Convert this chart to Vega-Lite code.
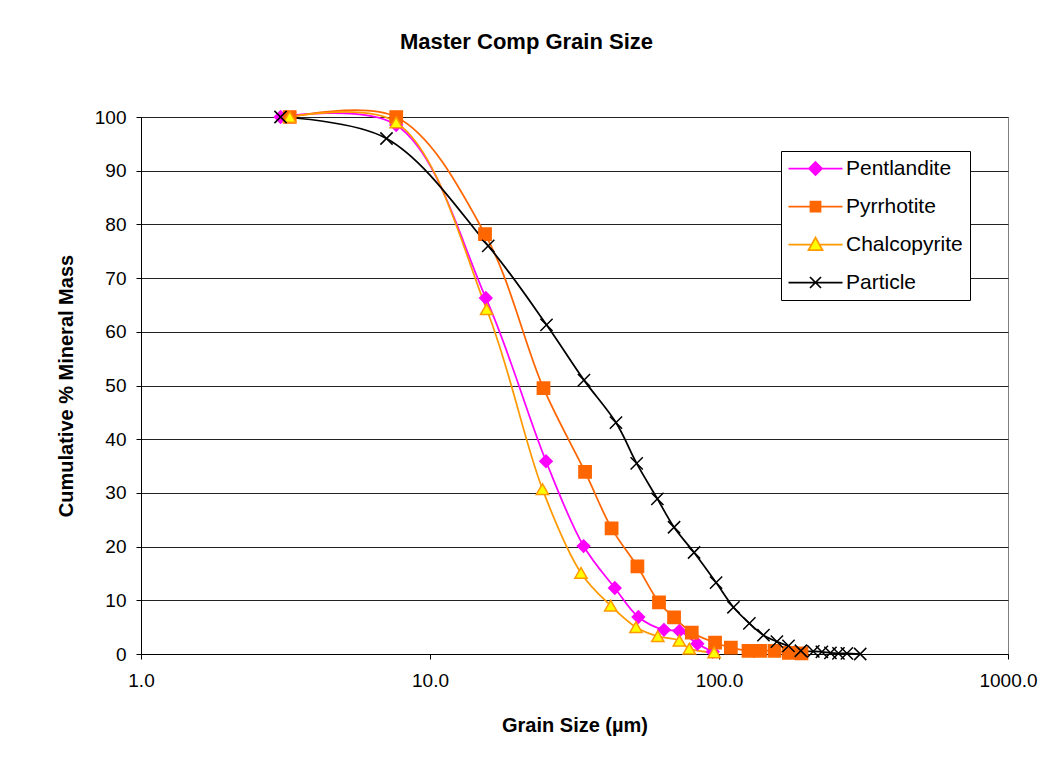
{
  "$schema": "https://vega.github.io/schema/vega-lite/v6.json",
  "width": 867,
  "height": 537,
  "autosize": {"type": "none"},
  "padding": {"left": 141, "top": 117, "right": 36, "bottom": 127},
  "background": "white",
  "title": {"text": "Master Comp Grain Size", "fontSize": 22, "font": "Liberation Sans", "fontWeight": "bold", "anchor": "middle", "dx": -48, "offset": 53, "color": "black"},
  "config": {
    "view": {"stroke": "#808080", "strokeWidth": 1},
    "axis": {"labelFont": "Liberation Sans", "titleFont": "Liberation Sans", "labelFontSize": 19, "titleFontSize": 20, "labelColor": "black", "titleColor": "black", "domainColor": "black", "tickColor": "black", "tickSize": 5, "titleFontWeight": "bold"},
    "legend": {"labelFont": "Liberation Sans", "labelFontSize": 21, "labelColor": "black"}
  },
  "data": {"values": [
    {"series": "Pentlandite", "size": 3.04, "pct": 100},
    {"series": "Pentlandite", "size": 7.64, "pct": 98.5},
    {"series": "Pentlandite", "size": 15.6, "pct": 66.3},
    {"series": "Pentlandite", "size": 25.2, "pct": 35.9},
    {"series": "Pentlandite", "size": 34.0, "pct": 20.1},
    {"series": "Pentlandite", "size": 43.6, "pct": 12.3},
    {"series": "Pentlandite", "size": 52.6, "pct": 6.9},
    {"series": "Pentlandite", "size": 64.5, "pct": 4.5},
    {"series": "Pentlandite", "size": 72.9, "pct": 4.3},
    {"series": "Pentlandite", "size": 84.2, "pct": 1.9},
    {"series": "Pentlandite", "size": 95.2, "pct": 0.4},
    {"series": "Pyrrhotite", "size": 3.27, "pct": 100},
    {"series": "Pyrrhotite", "size": 7.64, "pct": 100},
    {"series": "Pyrrhotite", "size": 15.5, "pct": 78.2},
    {"series": "Pyrrhotite", "size": 24.7, "pct": 49.5},
    {"series": "Pyrrhotite", "size": 34.4, "pct": 33.9},
    {"series": "Pyrrhotite", "size": 42.5, "pct": 23.4},
    {"series": "Pyrrhotite", "size": 52.2, "pct": 16.3},
    {"series": "Pyrrhotite", "size": 62.0, "pct": 9.6},
    {"series": "Pyrrhotite", "size": 69.9, "pct": 6.8},
    {"series": "Pyrrhotite", "size": 80.5, "pct": 4.0},
    {"series": "Pyrrhotite", "size": 96.9, "pct": 2.1},
    {"series": "Pyrrhotite", "size": 109.9, "pct": 1.2},
    {"series": "Pyrrhotite", "size": 126.5, "pct": 0.6},
    {"series": "Pyrrhotite", "size": 138.7, "pct": 0.6},
    {"series": "Pyrrhotite", "size": 155.6, "pct": 0.6},
    {"series": "Pyrrhotite", "size": 174.5, "pct": 0.2},
    {"series": "Pyrrhotite", "size": 192.9, "pct": 0.1},
    {"series": "Chalcopyrite", "size": 3.27, "pct": 100},
    {"series": "Chalcopyrite", "size": 7.64, "pct": 99},
    {"series": "Chalcopyrite", "size": 15.7, "pct": 64.2},
    {"series": "Chalcopyrite", "size": 24.5, "pct": 30.7},
    {"series": "Chalcopyrite", "size": 33.3, "pct": 15.1},
    {"series": "Chalcopyrite", "size": 42.2, "pct": 9.0},
    {"series": "Chalcopyrite", "size": 51.6, "pct": 5.0},
    {"series": "Chalcopyrite", "size": 61.4, "pct": 3.3},
    {"series": "Chalcopyrite", "size": 72.9, "pct": 2.5},
    {"series": "Chalcopyrite", "size": 78.9, "pct": 1.0},
    {"series": "Chalcopyrite", "size": 96.2, "pct": 0.3},
    {"series": "Particle", "size": 3.04, "pct": 100},
    {"series": "Particle", "size": 7.07, "pct": 96.0},
    {"series": "Particle", "size": 15.9, "pct": 76.0},
    {"series": "Particle", "size": 25.3, "pct": 61.3},
    {"series": "Particle", "size": 34.1, "pct": 51.0},
    {"series": "Particle", "size": 44.0, "pct": 43.1},
    {"series": "Particle", "size": 51.9, "pct": 35.5},
    {"series": "Particle", "size": 61.2, "pct": 28.9},
    {"series": "Particle", "size": 69.9, "pct": 23.6},
    {"series": "Particle", "size": 82.0, "pct": 18.9},
    {"series": "Particle", "size": 97.7, "pct": 13.3},
    {"series": "Particle", "size": 112.2, "pct": 8.7},
    {"series": "Particle", "size": 127.4, "pct": 5.7},
    {"series": "Particle", "size": 142.5, "pct": 3.5},
    {"series": "Particle", "size": 158.6, "pct": 2.3},
    {"series": "Particle", "size": 174, "pct": 1.5},
    {"series": "Particle", "size": 192, "pct": 0.6},
    {"series": "Particle", "size": 212, "pct": 0.5},
    {"series": "Particle", "size": 227, "pct": 0.4},
    {"series": "Particle", "size": 243, "pct": 0.2},
    {"series": "Particle", "size": 259, "pct": 0.1},
    {"series": "Particle", "size": 277, "pct": 0.1},
    {"series": "Particle", "size": 308, "pct": 0}
  ]},
  "encoding": {
    "x": {"field": "size", "type": "quantitative", "scale": {"type": "log", "domain": [1, 1000]},
      "axis": {"title": "Grain Size (µm)", "values": [1, 10, 100, 1000], "format": ".1f", "grid": false, "labelPadding": 12, "titlePadding": 25, "labelFlush": false, "labelOverlap": false, "labelBound": false}},
    "y": {"field": "pct", "type": "quantitative", "scale": {"domain": [0, 100], "nice": false},
      "axis": {"title": "Cumulative % Mineral Mass", "values": [0, 10, 20, 30, 40, 50, 60, 70, 80, 90, 100], "grid": true, "gridColor": "#222222", "gridWidth": 1, "labelPadding": 10, "titlePadding": 18}},
    "stroke": {"field": "series", "type": "nominal", "scale": {"domain": ["Pentlandite", "Pyrrhotite", "Chalcopyrite", "Particle"], "range": ["#FF00FF", "#FF6600", "#FF9900", "#000000"]},
      "legend": {"title": null, "orient": "none", "legendX": 640, "legendY": 34, "strokeColor": "black", "fillColor": "white", "padding": 7, "symbolSize": 100, "symbolOffset": 17, "rowPadding": 16, "labelOffset": 20, "symbolStrokeWidth": 1.75, "symbolOpacity": 1}}
  },
  "layer": [
    {"mark": {"type": "line", "interpolate": "catmull-rom", "strokeWidth": 1.75}},
    {"mark": {"type": "point", "filled": true, "opacity": 1, "strokeWidth": 1.5, "size": 150},
     "encoding": {
       "shape": {"condition": [
         {"test": "datum.series === 'Pentlandite'", "value": "diamond"},
         {"test": "datum.series === 'Pyrrhotite'", "value": "square"},
         {"test": "datum.series === 'Chalcopyrite'", "value": "triangle-up"}
       ], "value": "M-1,-1L1,1M-1,1L1,-1"},
       "fill": {"field": "series", "type": "nominal", "scale": {"domain": ["Pentlandite", "Pyrrhotite", "Chalcopyrite", "Particle"], "range": ["#FF00FF", "#FF6600", "#FFFF00", "transparent"]}, "legend": null}
     }},
    {"mark": {"type": "point", "filled": true, "opacity": 0, "strokeWidth": 1.75},
     "encoding": {
       "shape": {"field": "series", "type": "nominal",
         "scale": {"domain": ["Pentlandite", "Pyrrhotite", "Chalcopyrite", "Particle"], "range": [
           "M-5.4,0H5.4M0,-1.3L1.3,0L0,1.3L-1.3,0Z",
           "M-5.4,0H5.4M-1,-1H1V1H-1Z",
           "M-5.4,0H-0.75M0.75,0H5.4M0,-1.4L1.4,1.1L-1.4,1.1Z",
           "M-5.4,0H5.4M-1.1,-1.1L1.1,1.1M-1.1,1.1L1.1,-1.1"
         ]},
         "legend": null}
     }}
  ]
}
